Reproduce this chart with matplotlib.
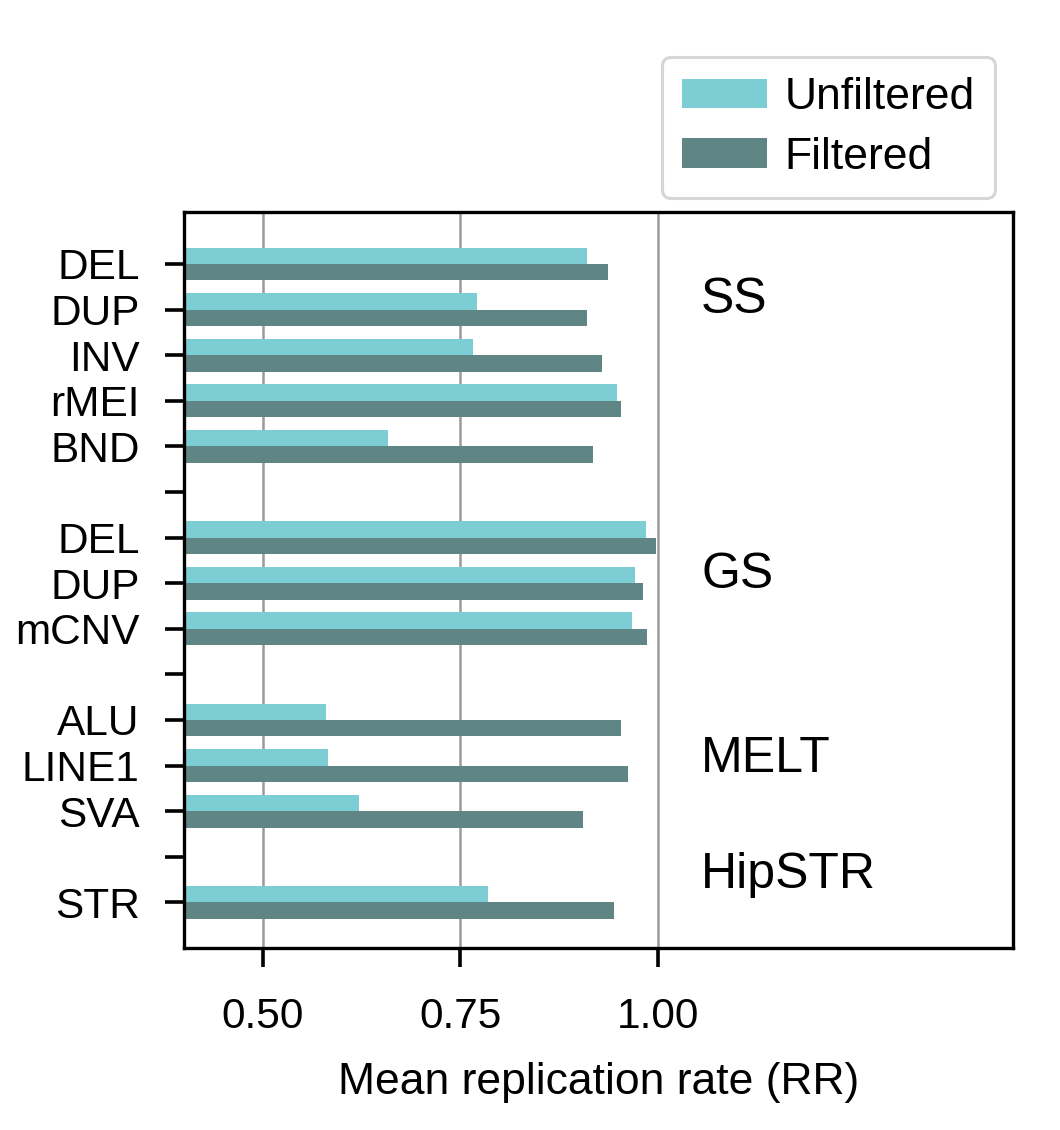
import matplotlib
matplotlib.use("Agg")
import matplotlib.pyplot as plt
import numpy as np

plt.rcParams['font.family'] = ['Liberation Sans', 'DejaVu Sans']

labels = ['DEL', 'DUP', 'INV', 'rMEI', 'BND', '',
          'DEL', 'DUP', 'mCNV', '',
          'ALU', 'LINE1', 'SVA', '',
          'STR']
unfiltered = [0.910, 0.771, 0.766, 0.949, 0.658, np.nan,
              0.985, 0.971, 0.967, np.nan,
              0.580, 0.582, 0.622, np.nan,
              0.785]
filtered = [0.937, 0.910, 0.929, 0.953, 0.918, np.nan,
            0.998, 0.981, 0.987, np.nan,
            0.953, 0.962, 0.905, np.nan,
            0.944]
groups = ['SS', 'GS', 'MELT', 'HipSTR']
group_y = [0.79, 6.82, 10.85, 13.4]
xticks = [0.50, 0.75, 1.00]

c_unf = '#7dcdd5'
c_fil = '#5f8684'

fig = plt.figure(figsize=(10.6, 11.3), dpi=100)
ax = fig.add_axes([0.1736, 0.1611, 0.7821, 0.6513])

y = np.arange(len(labels))
h = 0.36
ax.barh(y - h / 2, unfiltered, height=h, color=c_unf, label='Unfiltered', zorder=2)
ax.barh(y + h / 2, filtered, height=h, color=c_fil, label='Filtered', zorder=2)

ax.set_xlim(0.40, 1.45)
ax.set_ylim(15.0, -1.14)
ax.set_yticks(y)
ax.set_yticklabels(labels)
ax.set_xticks(xticks)
ax.set_xticklabels(['%.2f' % v for v in xticks])
ax.grid(axis='x', color='#9a9a9a', linewidth=1.8, zorder=0)
ax.set_axisbelow(True)

for s in ax.spines.values():
    s.set_linewidth(2.4)
ax.tick_params(axis='both', length=14, width=2.6, labelsize=30.5)
ax.tick_params(axis='y', pad=18)
ax.tick_params(axis='x', pad=21)

for g, gy in zip(groups, group_y):
    ax.text(1.055, gy, g, fontsize=36, va='center', ha='left')

ax.set_xlabel('Mean replication rate (RR)', fontsize=32, labelpad=18)

leg = ax.legend(loc='upper right', bbox_to_anchor=(0.978, 1.2106), borderaxespad=0,
                fontsize=32, frameon=True, fancybox=True, edgecolor='#cccccc',
                handlelength=1.9, handleheight=0.65, handletextpad=0.4,
                labelspacing=0.42, borderpad=0.45)
leg.get_frame().set_linewidth(2.2)

fig.savefig('out.png', dpi=100)
